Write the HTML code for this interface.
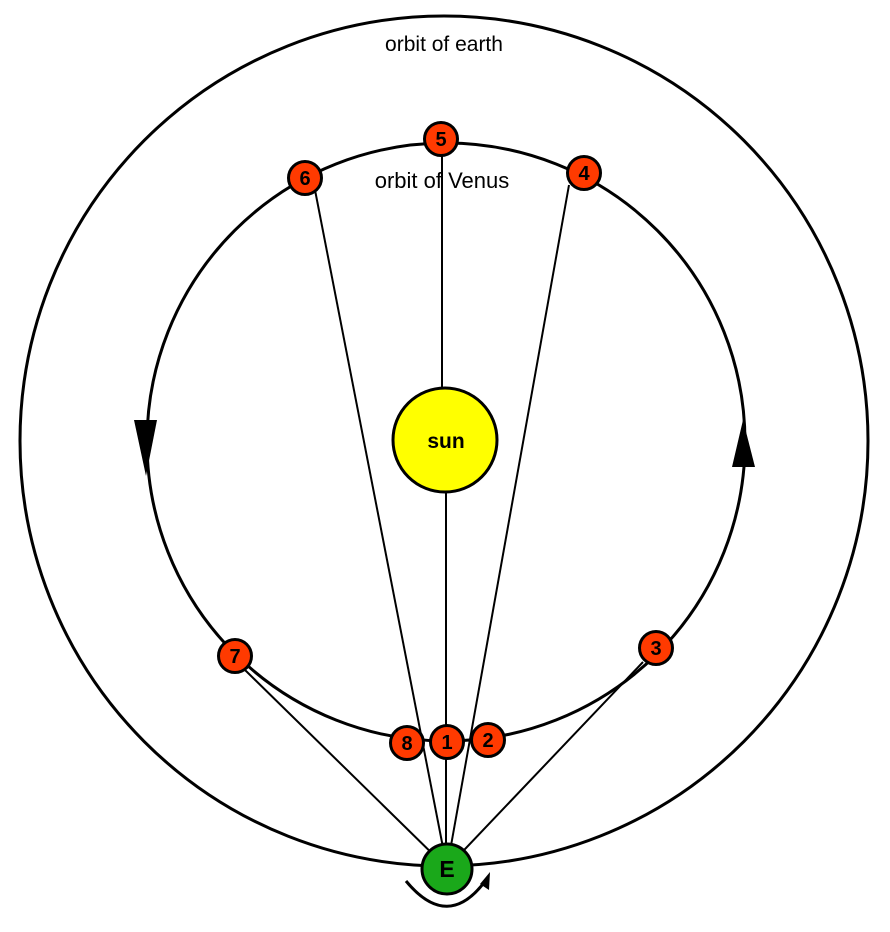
<!DOCTYPE html>
<html><head><style>body{margin:0;background:#fff}svg{display:block}</style></head><body>
<svg width="890" height="932" viewBox="0 0 890 932" xmlns="http://www.w3.org/2000/svg" font-family="Liberation Sans, sans-serif">
<g fill="none" stroke="#000" stroke-width="3">
<ellipse cx="444" cy="441" rx="424" ry="425"/>
<circle cx="446" cy="442" r="299"/>
</g>
<g stroke="#000" stroke-width="2">
<line x1="447" y1="868" x2="315" y2="190"/>
<line x1="447" y1="868" x2="569" y2="185"/>
<line x1="442" y1="155" x2="442" y2="390"/>
<line x1="446" y1="490" x2="446" y2="868"/>
<line x1="447" y1="868" x2="245" y2="670"/>
<line x1="447" y1="868" x2="643" y2="662"/>
</g>
<polygon points="134,420 157,420 146,476" fill="#000"/>
<polygon points="732,467 755,467 743,420" fill="#000"/>
<path d="M406,881 Q448,932 486,880" fill="none" stroke="#000" stroke-width="3"/>
<polygon points="480,884 490,872 489,890" fill="#000"/>
<circle cx="445" cy="440" r="52" fill="#ffff00" stroke="#000" stroke-width="3"/>
<text x="446" y="448" font-size="21" font-weight="bold" text-anchor="middle">sun</text>
<g fill="#ff3a00" stroke="#000" stroke-width="3">
<circle cx="441" cy="139" r="16.5"/><circle cx="305" cy="178" r="16.5"/><circle cx="584" cy="173" r="16.5"/>
<circle cx="235" cy="656" r="16.5"/><circle cx="656" cy="648" r="16.5"/>
<circle cx="407" cy="743" r="16.5"/><circle cx="447" cy="742" r="16.5"/><circle cx="488" cy="740" r="16.5"/>
</g>
<g font-size="20" font-weight="bold" text-anchor="middle">
<text x="441" y="146">5</text><text x="305" y="185">6</text><text x="584" y="180">4</text>
<text x="235" y="663">7</text><text x="656" y="655">3</text>
<text x="407" y="750">8</text><text x="447" y="749">1</text><text x="488" y="747">2</text>
</g>
<circle cx="447" cy="869" r="25" fill="#1aa81a" stroke="#000" stroke-width="3"/>
<text x="447" y="877" font-size="23" font-weight="bold" text-anchor="middle">E</text>
<text x="444" y="51" font-size="21" text-anchor="middle">orbit of earth</text>
<text x="442" y="188" font-size="22" text-anchor="middle">orbit of Venus</text>
</svg>
</body></html>
